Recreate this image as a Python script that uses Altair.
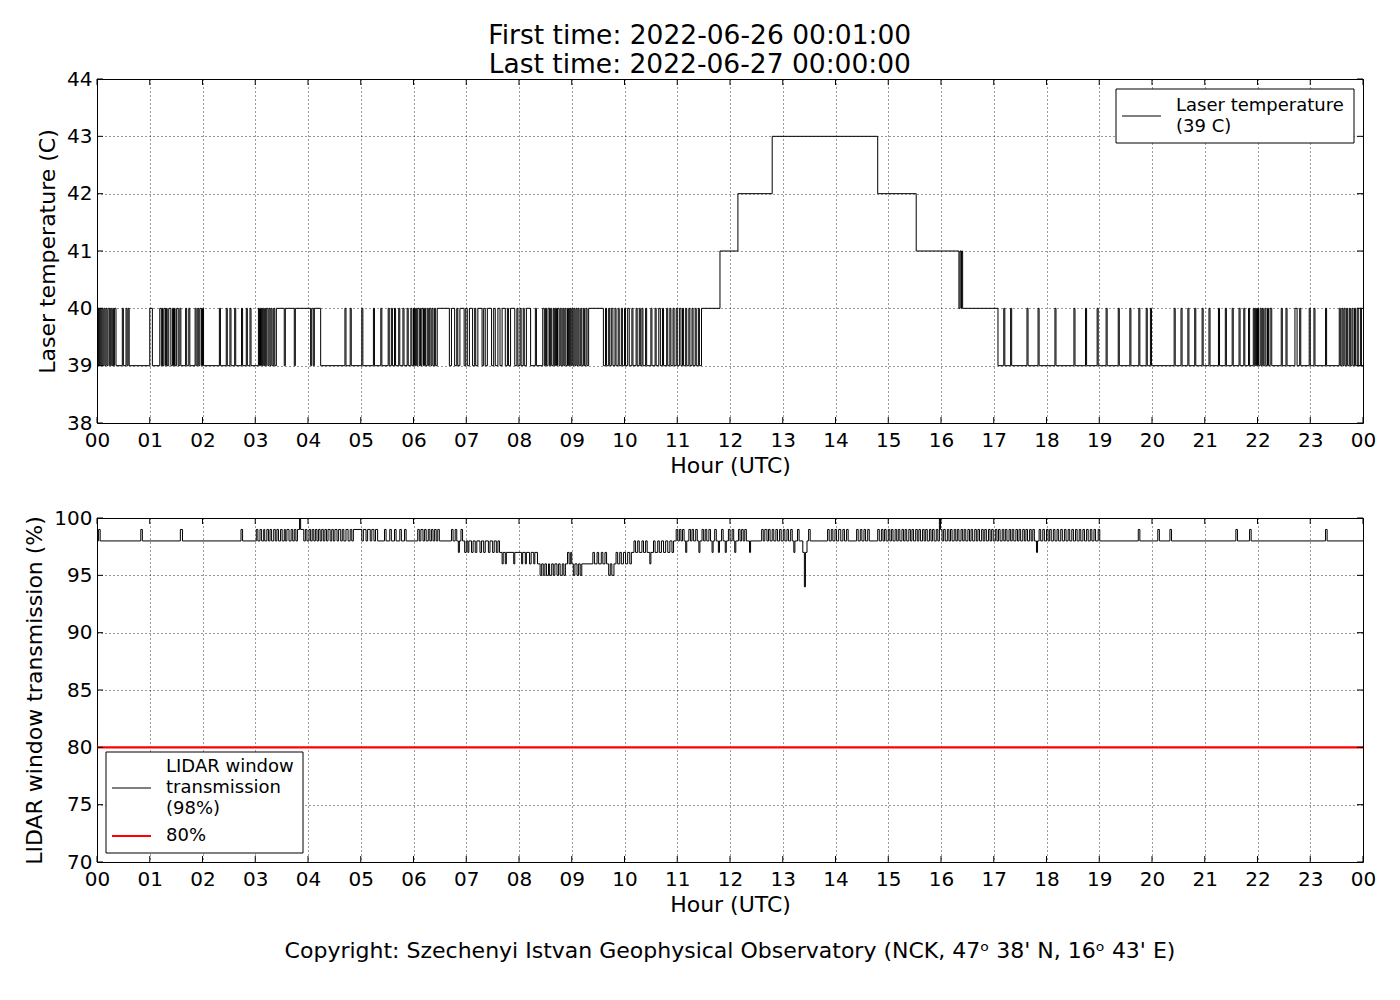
import altair as alt
import pandas as pd

FONT = "DejaVu Sans"

hour_ticks = list(range(25))
hour_labels = ["00", "01", "02", "03", "04", "05", "06", "07", "08", "09", "10", "11",
               "12", "13", "14", "15", "16", "17", "18", "19", "20", "21", "22", "23", "00"]
temp_ticks = [38, 39, 40, 41, 42, 43, 44]
trans_ticks = [70, 75, 80, 85, 90, 95, 100]

title_lines = ["First time: 2022-06-26 00:01:00", "Last time: 2022-06-27 00:00:00"]
copyright_text = "Copyright: Szechenyi Istvan Geophysical Observatory (NCK, 47\u1d52  38' N, 16\u1d52  43' E)"

temp_legend_lines = ["Laser temperature", "(39 C)"]
trans_legend_lines = ["LIDAR window", "transmission", "(98%)"]
thr_legend_lines = ["80%"]

# Laser temperature: intervals at 40 C over a 39 C baseline (hours)
temp_spikes_early = [
    (0.00, 0.03), (0.05, 0.07), (0.09, 0.11), (0.13, 0.15), (0.17, 0.19), (0.21, 0.24), (0.26, 0.28),
    (0.30, 0.31), (0.33, 0.36), (0.48, 0.50), (0.55, 0.57), (0.59, 0.61), (1.00, 1.05),
    (1.19, 1.22), (1.24, 1.25), (1.27, 1.30), (1.32, 1.33), (1.36, 1.40), (1.43, 1.45), (1.47, 1.48),
    (1.51, 1.54), (1.57, 1.59), (1.68, 1.70), (1.74, 1.76), (1.86, 1.88), (1.91, 1.93), (1.95, 1.98),
    (2.00, 2.02), (2.32, 2.34), (2.45, 2.47), (2.52, 2.54), (2.61, 2.63), (2.74, 2.76), (2.83, 2.85),
    (2.90, 2.92), (3.06, 3.08), (3.10, 3.12), (3.14, 3.16), (3.18, 3.19), (3.21, 3.24), (3.26, 3.28),
    (3.30, 3.32), (3.35, 3.37), (3.40, 3.55), (3.57, 3.74), (3.76, 4.05), (4.07, 4.10), (4.12, 4.24),
    (4.70, 4.72), (4.80, 4.82), (5.02, 5.04), (5.24, 5.26), (5.38, 5.40), (5.52, 5.54), (5.58, 5.60),
    (5.64, 5.66), (5.72, 5.74), (5.80, 5.82), (5.88, 5.90), (5.95, 5.97), (6.00, 6.02), (6.04, 6.06),
    (6.08, 6.11), (6.13, 6.14), (6.16, 6.19), (6.21, 6.23), (6.26, 6.28), (6.30, 6.33), (6.35, 6.37),
    (6.40, 6.42), (6.45, 6.68), (6.72, 6.78), (6.82, 6.84), (6.88, 6.96), (6.99, 7.02), (7.06, 7.12),
    (7.16, 7.18), (7.22, 7.30), (7.33, 7.36), (7.40, 7.48), (7.52, 7.55), (7.60, 7.64), (7.68, 7.74),
    (7.78, 7.80), (7.84, 7.92), (7.96, 7.98), (8.02, 8.04), (8.08, 8.10), (8.14, 8.22), (8.31, 8.33),
    (8.45, 8.48), (8.50, 8.52), (8.55, 8.58), (8.60, 8.62), (8.65, 8.67), (8.69, 8.71), (8.73, 8.76),
    (8.78, 8.80), (8.83, 8.85), (8.87, 8.89), (8.92, 8.94), (8.96, 8.98), (9.00, 9.02), (9.04, 9.06),
    (9.08, 9.10), (9.12, 9.14), (9.17, 9.19), (9.22, 9.24), (9.27, 9.29), (9.32, 9.60), (9.64, 9.66),
    (9.70, 9.72), (9.75, 9.78), (9.82, 9.84), (9.88, 9.90), (9.94, 9.96), (10.00, 10.02), (10.06, 10.09),
    (10.14, 10.16), (10.22, 10.24), (10.28, 10.30), (10.33, 10.35), (10.40, 10.42), (10.50, 10.52),
    (10.58, 10.60), (10.65, 10.68), (10.72, 10.74), (10.80, 10.82), (10.86, 10.88), (10.92, 10.94),
    (10.98, 11.00), (11.04, 11.07), (11.10, 11.12), (11.16, 11.18), (11.22, 11.24), (11.28, 11.30),
    (11.34, 11.36), (11.40, 11.42),
]
temp_plateau_hours = [11.46, 11.81, 12.15, 12.80, 14.80, 15.53, 16.34, 16.36, 16.38, 16.39, 16.41, 17.08]
temp_plateau_values = [40, 41, 42, 43, 42, 41, 40, 41, 40, 41, 40, 39]
temp_spikes_late = [
    (17.19, 17.21), (17.32, 17.34), (17.63, 17.65), (17.84, 17.86), (18.16, 18.18), (18.52, 18.54),
    (18.74, 18.76), (18.96, 18.98), (19.13, 19.15), (19.36, 19.38), (19.58, 19.60), (19.75, 19.77),
    (19.89, 19.91), (19.97, 19.99), (20.42, 20.44), (20.55, 20.57), (20.68, 20.70), (20.81, 20.83),
    (20.95, 20.97), (21.08, 21.10), (21.26, 21.28), (21.39, 21.41), (21.52, 21.54), (21.65, 21.67),
    (21.74, 21.76), (21.83, 21.85), (21.92, 21.94), (21.96, 21.98), (22.00, 22.02), (22.05, 22.07),
    (22.09, 22.11), (22.14, 22.16), (22.19, 22.21), (22.24, 22.27), (22.45, 22.47), (22.54, 22.56),
    (22.71, 22.75), (22.80, 22.82), (22.98, 23.00), (23.07, 23.09), (23.29, 23.31), (23.55, 23.57),
    (23.60, 23.62), (23.64, 23.66), (23.69, 23.71), (23.74, 23.76), (23.79, 23.81), (23.84, 23.86),
    (23.89, 23.91), (23.95, 23.97),
]
temp_end = (24.0, 39)

# LIDAR window transmission: step change points (hour, %)
trans_steps_night = [
    (0.00, 98), (0.03, 99), (0.06, 98), (0.83, 99), (0.86, 98), (1.58, 99), (1.62, 98), (2.73, 99), (2.76, 98),
]
trans_steps_morning = [
    (3.02, 99), (3.05, 98), (3.09, 99), (3.12, 98), (3.16, 99), (3.18, 98), (3.22, 99), (3.25, 98),
    (3.28, 99), (3.31, 98), (3.35, 99), (3.38, 98), (3.41, 99), (3.44, 98), (3.48, 99), (3.51, 98),
    (3.55, 99), (3.57, 98), (3.60, 99), (3.64, 98), (3.68, 99), (3.71, 98), (3.74, 99), (3.77, 98),
    (3.80, 99), (3.84, 100), (3.86, 99), (3.92, 98), (3.95, 99), (3.98, 98), (4.02, 99), (4.05, 98),
    (4.08, 99), (4.11, 98), (4.14, 99), (4.17, 98), (4.20, 99), (4.23, 98), (4.26, 99), (4.29, 98),
    (4.32, 99), (4.35, 98), (4.38, 99), (4.42, 98), (4.45, 99), (4.48, 98), (4.51, 99), (4.55, 98),
    (4.58, 99), (4.62, 98), (4.65, 99), (4.68, 98), (4.72, 99), (4.76, 98), (4.80, 99), (4.83, 98),
    (4.86, 99), (5.02, 98), (5.05, 99), (5.10, 98), (5.13, 99), (5.18, 98), (5.21, 99), (5.25, 98),
    (5.28, 99), (5.32, 98), (5.45, 99), (5.48, 98), (5.55, 99), (5.58, 98), (5.64, 99), (5.67, 98),
    (5.74, 99), (5.77, 98), (5.83, 99), (5.86, 98), (6.08, 99), (6.11, 98), (6.14, 99), (6.18, 98),
    (6.21, 99), (6.24, 98), (6.28, 99), (6.31, 98), (6.34, 99), (6.37, 98), (6.40, 99), (6.43, 98),
    (6.46, 99), (6.49, 98), (6.72, 99), (6.75, 98), (6.79, 99), (6.82, 98), (6.85, 97), (6.87, 98),
    (6.90, 99), (6.93, 98),
]
trans_steps_dip = [
    (6.97, 97), (7.00, 98), (7.03, 97), (7.05, 98), (7.10, 97), (7.13, 98), (7.17, 97), (7.20, 98),
    (7.26, 97), (7.29, 98), (7.33, 97), (7.36, 98), (7.42, 97), (7.45, 98), (7.50, 97), (7.53, 98),
    (7.57, 97), (7.60, 98), (7.63, 97), (7.68, 96), (7.70, 97), (7.74, 96), (7.76, 97), (7.90, 96),
    (7.92, 97), (8.05, 96), (8.07, 97), (8.12, 96), (8.14, 97), (8.20, 96), (8.23, 97), (8.28, 96),
    (8.30, 97), (8.35, 96), (8.40, 95), (8.43, 96), (8.46, 95), (8.49, 96), (8.52, 95), (8.56, 96),
    (8.58, 95), (8.62, 96), (8.65, 95), (8.68, 96), (8.72, 95), (8.75, 96), (8.78, 95), (8.82, 96),
    (8.85, 95), (8.88, 96), (8.92, 97), (8.95, 96), (8.98, 97), (9.00, 96), (9.03, 95), (9.06, 96),
    (9.10, 95), (9.13, 96), (9.16, 95), (9.19, 96), (9.40, 97), (9.43, 96), (9.48, 97), (9.51, 96),
    (9.56, 97), (9.59, 96), (9.63, 97), (9.66, 96), (9.70, 95), (9.73, 96), (9.76, 95), (9.80, 96),
    (9.84, 97), (9.87, 96), (9.91, 97), (9.94, 96), (9.98, 97), (10.02, 96), (10.06, 97), (10.10, 96),
    (10.13, 97), (10.18, 98), (10.21, 97), (10.25, 98), (10.28, 97), (10.33, 98), (10.36, 97),
    (10.40, 98), (10.43, 97), (10.48, 96), (10.50, 97), (10.55, 98), (10.58, 97), (10.63, 98),
    (10.66, 97), (10.70, 98), (10.74, 97), (10.78, 98), (10.82, 97), (10.86, 98), (10.90, 97),
    (10.93, 98), (10.98, 99), (11.01, 98),
]
trans_steps_day = [
    (11.04, 99), (11.07, 98), (11.10, 99), (11.13, 98), (11.16, 97), (11.18, 98), (11.22, 99), (11.25, 98),
    (11.28, 99), (11.31, 98), (11.35, 99), (11.38, 98), (11.41, 97), (11.43, 98), (11.47, 99), (11.50, 98),
    (11.53, 99), (11.56, 98), (11.60, 99), (11.63, 98), (11.66, 97), (11.68, 98), (11.71, 99), (11.74, 98),
    (11.78, 97), (11.80, 98), (11.84, 99), (11.87, 98), (11.91, 97), (11.93, 98), (11.97, 99), (12.00, 98),
    (12.04, 99), (12.07, 98), (12.09, 97), (12.11, 98), (12.16, 99), (12.19, 98), (12.22, 99), (12.25, 98),
    (12.28, 99), (12.31, 98), (12.37, 97), (12.39, 98), (12.60, 99), (12.63, 98), (12.66, 99), (12.70, 98),
    (12.73, 99), (12.76, 98), (12.80, 99), (12.83, 98), (12.87, 99), (12.90, 98), (12.94, 99), (12.97, 98),
    (13.01, 99), (13.04, 98), (13.08, 99), (13.11, 98), (13.15, 99), (13.18, 98), (13.21, 97), (13.23, 98),
    (13.28, 99), (13.31, 98), (13.38, 97), (13.41, 94), (13.43, 97), (13.46, 98), (13.49, 99), (13.52, 98),
    (13.85, 99), (13.88, 98), (13.92, 99), (13.95, 98), (13.99, 99), (14.02, 98), (14.06, 99), (14.10, 98),
    (14.14, 99), (14.17, 98), (14.21, 99), (14.24, 98), (14.40, 99), (14.43, 98), (14.47, 99), (14.50, 98),
    (14.54, 99), (14.57, 98), (14.61, 99), (14.64, 98), (14.80, 99), (14.83, 98), (14.87, 99), (14.90, 98),
    (14.93, 99), (14.96, 98), (15.00, 99), (15.03, 98), (15.06, 99), (15.09, 98), (15.13, 99), (15.16, 98),
    (15.19, 99), (15.22, 98), (15.26, 99), (15.29, 98), (15.32, 99), (15.35, 98), (15.39, 99), (15.42, 98),
    (15.45, 99), (15.48, 98), (15.52, 99), (15.55, 98), (15.58, 99), (15.61, 98), (15.65, 99), (15.68, 98),
    (15.71, 99), (15.74, 98), (15.78, 99), (15.81, 98), (15.84, 99), (15.87, 98), (15.91, 99), (15.94, 98),
    (15.97, 100), (15.99, 99), (16.02, 98), (16.05, 99), (16.08, 98), (16.12, 99), (16.15, 98), (16.18, 99),
    (16.21, 98), (16.25, 99), (16.28, 98), (16.31, 99), (16.34, 98), (16.38, 99), (16.41, 98), (16.44, 99),
    (16.47, 98), (16.51, 99), (16.54, 98), (16.57, 99), (16.60, 98), (16.64, 99), (16.67, 98), (16.70, 99),
    (16.73, 98), (16.77, 99), (16.80, 98), (16.83, 99), (16.86, 98), (16.90, 99), (16.93, 98), (16.96, 99),
    (16.99, 98), (17.03, 99), (17.06, 98), (17.09, 99), (17.12, 98), (17.16, 99), (17.19, 98), (17.22, 99),
    (17.25, 98), (17.29, 99), (17.32, 98), (17.35, 99), (17.38, 98), (17.42, 99), (17.45, 98), (17.48, 99),
    (17.51, 98), (17.55, 99), (17.58, 98), (17.61, 99), (17.64, 98), (17.68, 99), (17.71, 98), (17.74, 99),
    (17.77, 98), (17.81, 97), (17.83, 98), (17.86, 99), (17.89, 98), (17.93, 99), (17.96, 98), (18.00, 99),
    (18.03, 98), (18.06, 99), (18.09, 98), (18.13, 99), (18.16, 98), (18.20, 99), (18.23, 98), (18.27, 99),
    (18.30, 98), (18.34, 99), (18.37, 98), (18.41, 99), (18.44, 98), (18.48, 99), (18.51, 98), (18.55, 99),
    (18.58, 98), (18.62, 99), (18.65, 98), (18.69, 99), (18.72, 98), (18.76, 99), (18.79, 98), (18.83, 99),
    (18.86, 98), (18.90, 99), (18.93, 98), (18.98, 99), (19.01, 98),
]
trans_steps_evening = [
    (19.74, 99), (19.77, 98), (20.11, 99), (20.14, 98), (20.34, 99), (20.37, 98), (21.59, 99), (21.62, 98),
    (21.85, 99), (21.88, 98), (23.29, 99), (23.32, 98), (24.00, 98),
]
threshold_values = [80]

# ---- build tables ----
temp_rows = []
for s, e in temp_spikes_early:
    temp_rows += [(s, 40), (e, 39)]
temp_rows += list(zip(temp_plateau_hours, temp_plateau_values))
for s, e in temp_spikes_late:
    temp_rows += [(s, 40), (e, 39)]
temp_rows.append(temp_end)
temp_df = pd.DataFrame(temp_rows, columns=["hour", "value"])
temp_df["i"] = range(len(temp_df))

trans_rows = trans_steps_night + trans_steps_morning + trans_steps_dip + trans_steps_day + trans_steps_evening
trans_df = pd.DataFrame(trans_rows, columns=["hour", "value"])
trans_df["i"] = range(len(trans_df))

thr_df = pd.DataFrame({"value": threshold_values})
xtick_df = pd.DataFrame({"hour": hour_ticks})
ttick_df = pd.DataFrame({"value": temp_ticks})
rtick_df = pd.DataFrame({"value": trans_ticks})
one_row = pd.DataFrame({"k": [0]})

label_expr = "[" + ",".join("'%s'" % s for s in hour_labels) + "][datum.value]"
W, H = 1266, 344
TL = 6      # inward tick length (px)
LH = 21     # legend line height
LFS = 18    # legend font size


def x_enc():
    return alt.X("hour:Q", scale=alt.Scale(domain=[0, 24], nice=False, zero=False),
                 axis=alt.Axis(values=hour_ticks, labelExpr=label_expr, title="Hour (UTC)"))


def y_enc(domain, ticks, title):
    return alt.Y("value:Q", scale=alt.Scale(domain=domain, nice=False, zero=False),
                 axis=alt.Axis(values=ticks, title=title))


def inner_ticks(tick_df, domain, ticks, title):
    xb = alt.Chart(xtick_df).mark_rule(color="black", strokeWidth=1).encode(
        x=x_enc(), y=alt.value(H), y2=alt.value(H - TL))
    xt = alt.Chart(xtick_df).mark_rule(color="black", strokeWidth=1).encode(
        x=x_enc(), y=alt.value(0), y2=alt.value(TL))
    yl = alt.Chart(tick_df).mark_rule(color="black", strokeWidth=1).encode(
        y=y_enc(domain, ticks, title), x=alt.value(0), x2=alt.value(TL))
    yr = alt.Chart(tick_df).mark_rule(color="black", strokeWidth=1).encode(
        y=y_enc(domain, ticks, title), x=alt.value(W - TL), x2=alt.value(W))
    return [xb, xt, yl, yr]


def legend_box(x0, y0, w, h):
    return alt.Chart(one_row).mark_rect(fill="white", stroke="black", strokeWidth=1).encode(
        x=alt.value(x0), x2=alt.value(x0 + w), y=alt.value(y0), y2=alt.value(y0 + h))


def legend_entry(x0, yc, lines, color, sw):
    sym = alt.Chart(one_row).mark_rule(color=color, strokeWidth=sw).encode(
        x=alt.value(x0 + 6), x2=alt.value(x0 + 45), y=alt.value(yc))
    txt = alt.Chart(one_row).mark_text(
        text=lines, align="left", baseline="middle", font=FONT, fontSize=LFS,
        lineHeight=LH, color="black",
    ).encode(x=alt.value(x0 + 60), y=alt.value(yc - LH * (len(lines) - 1) / 2))
    return [sym, txt]


# ---- top panel ----
temp_title = "Laser temperature (C)"
top_line = alt.Chart(temp_df).mark_line(interpolate="step-after", strokeWidth=1, color="black", clip=True).encode(
    x=x_enc(),
    y=y_enc([38, 44], temp_ticks, temp_title),
    order="i:Q",
)
tl_x, tl_y, tl_w, tl_h = W - 9 - 238, 10, 238, 54
top = alt.layer(
    top_line,
    *inner_ticks(ttick_df, [38, 44], temp_ticks, temp_title),
    legend_box(tl_x, tl_y, tl_w, tl_h),
    *legend_entry(tl_x, tl_y + tl_h / 2, temp_legend_lines, "black", 1),
).properties(width=W, height=H)

# ---- bottom panel ----
trans_title = "LIDAR window transmission (%)"
tline = alt.Chart(trans_df).mark_line(interpolate="step-after", strokeWidth=1, color="black", clip=True).encode(
    x=x_enc(),
    y=y_enc([70, 100], trans_ticks, trans_title),
    order="i:Q",
)
trule = alt.Chart(thr_df).mark_rule(color="#ff0000", strokeWidth=2.2).encode(
    y=y_enc([70, 100], trans_ticks, trans_title),
)
bl_x, bl_w, bl_h = 9, 197, 101
bl_y = H - 9 - bl_h
bottom = alt.layer(
    tline, trule,
    *inner_ticks(rtick_df, [70, 100], trans_ticks, trans_title),
    legend_box(bl_x, bl_y, bl_w, bl_h),
    *legend_entry(bl_x, bl_y + 36, trans_legend_lines, "black", 1),
    *legend_entry(bl_x, bl_y + 84, thr_legend_lines, "#ff0000", 2.2),
).properties(
    width=W, height=H,
    title=alt.TitleParams(copyright_text, orient="bottom", fontSize=22, fontWeight="normal",
                          font=FONT, offset=26, color="black"),
)

chart = alt.vconcat(top, bottom, spacing=30).properties(
    title=alt.TitleParams(title_lines, fontSize=26.5, fontWeight="normal", font=FONT, anchor="middle",
                          color="black", offset=-10, lineHeight=29),
    padding={"left": 15, "top": 15, "right": 5, "bottom": 5},
).configure_axis(
    labelFont=FONT, titleFont=FONT, labelFontSize=20, titleFontSize=22, titleFontWeight="normal",
    labelColor="black", titleColor="black", grid=True, gridColor="black", gridDash=[1, 3],
    gridWidth=0.8, gridOpacity=1, domain=False, ticks=False, labelFlush=False,
).configure_axisX(
    labelPadding=7, titlePadding=5,
).configure_axisY(
    labelPadding=5, titlePadding=7,
).configure_view(
    stroke="black", strokeWidth=1,
)

chart.save("out.html", embed_options={"renderer": "svg", "actions": False})
